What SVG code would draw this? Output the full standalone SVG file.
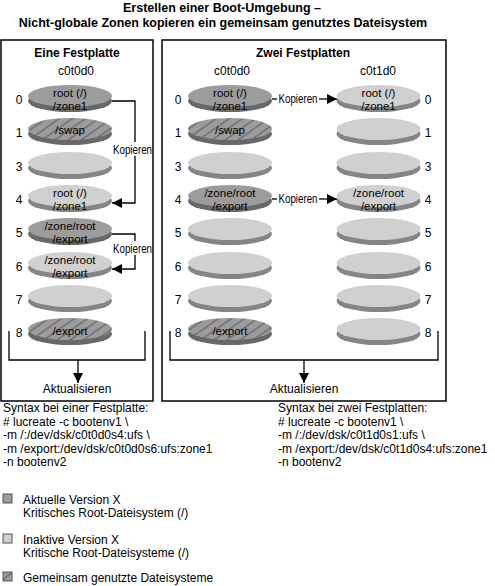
<svg xmlns="http://www.w3.org/2000/svg" width="495" height="586" viewBox="0 0 495 586">
<defs>
<pattern id="hatch" patternUnits="userSpaceOnUse" width="10" height="7.5" patternTransform="rotate(-35)">
<rect width="10" height="7.5" fill="#9c9c9c"/>
<line x1="0" y1="3.7" x2="10" y2="3.7" stroke="#4f4f4f" stroke-width="0.9"/>
</pattern>
<marker id="arr" markerWidth="10" markerHeight="10" viewBox="0 0 10 10" refX="10" refY="5" orient="auto" markerUnits="userSpaceOnUse">
<path d="M0,0 L10,5 L0,10 Z" fill="#000"/>
</marker>
</defs>
<style>
text{font-family:"Liberation Sans",Arial,sans-serif;font-size:12px;fill:#000}
.b{font-weight:bold}
.m{text-anchor:middle}
.d{font-size:11.5px}
.t{font-size:12.5px;font-weight:bold;text-anchor:middle}
.box{fill:none;stroke:#000;stroke-width:1.5}
.rimD{fill:#686868}
.rimL{fill:#858585}
.faceD{fill:#9c9c9c}
.faceL{fill:#d0d0d0}
.faceH{fill:url(#hatch)}
.ln{fill:none;stroke:#000;stroke-width:1.3}
.la{fill:none;stroke:#000;stroke-width:1.3;marker-end:url(#arr)}
.leg{stroke:#555;stroke-width:1}
.wb{fill:#fff}
</style>

<g id="title">
<text class="t" x="222" y="12">Erstellen einer Boot-Umgebung –</text>
<text class="t" x="223" y="27">Nicht-globale Zonen kopieren ein gemeinsam genutztes Dateisystem</text>
</g>

<g id="box-eine">
<rect class="box" x="1" y="40" width="152" height="361"/>
<text class="b m" x="77" y="57">Eine Festplatte</text>
<text class="m" x="76" y="75">c0t0d0</text>
</g>
<g id="box-zwei">
<rect class="box" x="162" y="40" width="284" height="361"/>
<text class="b m" x="303" y="57">Zwei Festplatten</text>
<text class="m" x="232" y="75">c0t0d0</text>
<text class="m" x="378" y="75">c0t1d0</text>
</g>

<!-- Left box: one disk -->
<g id="L0"><ellipse class="rimD" cx="70" cy="101" rx="42" ry="11"/><ellipse class="faceD" cx="70" cy="96" rx="42" ry="11"/><text class="m d" x="70" y="96.5">root (/)</text><text class="m d" x="70" y="109.5">/zone1</text><text class="m" x="19" y="104">0</text></g>
<g id="L1"><ellipse class="rimD" cx="70" cy="134" rx="42" ry="11"/><ellipse class="faceH" cx="70" cy="129" rx="42" ry="11"/><text class="m d" x="70" y="134">/swap</text><text class="m" x="19" y="137">1</text></g>
<g id="L3"><ellipse class="rimL" cx="70" cy="168" rx="42" ry="11"/><ellipse class="faceL" cx="70" cy="163" rx="42" ry="11"/><text class="m" x="19" y="171">3</text></g>
<g id="L4"><ellipse class="rimL" cx="70" cy="201" rx="42" ry="11"/><ellipse class="faceL" cx="70" cy="196" rx="42" ry="11"/><text class="m d" x="70" y="196.5">root (/)</text><text class="m d" x="70" y="209.5">/zone1</text><text class="m" x="19" y="204">4</text></g>
<g id="L5"><ellipse class="rimD" cx="70" cy="234" rx="42" ry="11"/><ellipse class="faceD" cx="70" cy="229" rx="42" ry="11"/><text class="m d" x="70" y="229.5">/zone/root</text><text class="m d" x="70" y="242.5">/export</text><text class="m" x="19" y="237">5</text></g>
<g id="L6"><ellipse class="rimL" cx="70" cy="268" rx="42" ry="11"/><ellipse class="faceL" cx="70" cy="263" rx="42" ry="11"/><text class="m d" x="70" y="263.5">/zone/root</text><text class="m d" x="70" y="276.5">/export</text><text class="m" x="19" y="271">6</text></g>
<g id="L7"><ellipse class="rimL" cx="70" cy="301" rx="42" ry="11"/><ellipse class="faceL" cx="70" cy="296" rx="42" ry="11"/><text class="m" x="19" y="304">7</text></g>
<g id="L8"><ellipse class="rimD" cx="70" cy="334" rx="42" ry="11"/><ellipse class="faceH" cx="70" cy="329" rx="42" ry="11"/><text class="m d" x="70" y="335">/export</text><text class="m" x="19" y="337">8</text></g>

<!-- Right box: c0t0d0 -->
<g id="A0"><ellipse class="rimD" cx="230" cy="101" rx="42" ry="11"/><ellipse class="faceD" cx="230" cy="96" rx="42" ry="11"/><text class="m d" x="230" y="96.5">root (/)</text><text class="m d" x="230" y="109.5">/zone1</text><text class="m" x="178" y="104">0</text></g>
<g id="A1"><ellipse class="rimD" cx="230" cy="134" rx="42" ry="11"/><ellipse class="faceH" cx="230" cy="129" rx="42" ry="11"/><text class="m d" x="230" y="134">/swap</text><text class="m" x="178" y="137">1</text></g>
<g id="A3"><ellipse class="rimL" cx="230" cy="168" rx="42" ry="11"/><ellipse class="faceL" cx="230" cy="163" rx="42" ry="11"/><text class="m" x="178" y="171">3</text></g>
<g id="A4"><ellipse class="rimD" cx="230" cy="201" rx="42" ry="11"/><ellipse class="faceD" cx="230" cy="196" rx="42" ry="11"/><text class="m d" x="230" y="196.5">/zone/root</text><text class="m d" x="230" y="209.5">/export</text><text class="m" x="178" y="204">4</text></g>
<g id="A5"><ellipse class="rimL" cx="230" cy="234" rx="42" ry="11"/><ellipse class="faceL" cx="230" cy="229" rx="42" ry="11"/><text class="m" x="178" y="237">5</text></g>
<g id="A6"><ellipse class="rimL" cx="230" cy="268" rx="42" ry="11"/><ellipse class="faceL" cx="230" cy="263" rx="42" ry="11"/><text class="m" x="178" y="271">6</text></g>
<g id="A7"><ellipse class="rimL" cx="230" cy="301" rx="42" ry="11"/><ellipse class="faceL" cx="230" cy="296" rx="42" ry="11"/><text class="m" x="178" y="304">7</text></g>
<g id="A8"><ellipse class="rimD" cx="230" cy="334" rx="42" ry="11"/><ellipse class="faceH" cx="230" cy="329" rx="42" ry="11"/><text class="m d" x="230" y="335">/export</text><text class="m" x="178" y="337">8</text></g>

<!-- Right box: c0t1d0 -->
<g id="B0"><ellipse class="rimL" cx="378.5" cy="101" rx="42" ry="11"/><ellipse class="faceL" cx="378.5" cy="96" rx="42" ry="11"/><text class="m d" x="378.5" y="96.5">root (/)</text><text class="m d" x="378.5" y="109.5">/zone1</text><text class="m" x="428" y="104">0</text></g>
<g id="B1"><ellipse class="rimL" cx="378.5" cy="134" rx="42" ry="11"/><ellipse class="faceL" cx="378.5" cy="129" rx="42" ry="11"/><text class="m" x="428" y="137">1</text></g>
<g id="B3"><ellipse class="rimL" cx="378.5" cy="168" rx="42" ry="11"/><ellipse class="faceL" cx="378.5" cy="163" rx="42" ry="11"/><text class="m" x="428" y="171">3</text></g>
<g id="B4"><ellipse class="rimL" cx="378.5" cy="201" rx="42" ry="11"/><ellipse class="faceL" cx="378.5" cy="196" rx="42" ry="11"/><text class="m d" x="378.5" y="196.5">/zone/root</text><text class="m d" x="378.5" y="209.5">/export</text><text class="m" x="428" y="204">4</text></g>
<g id="B5"><ellipse class="rimL" cx="378.5" cy="234" rx="42" ry="11"/><ellipse class="faceL" cx="378.5" cy="229" rx="42" ry="11"/><text class="m" x="428" y="237">5</text></g>
<g id="B6"><ellipse class="rimL" cx="378.5" cy="268" rx="42" ry="11"/><ellipse class="faceL" cx="378.5" cy="263" rx="42" ry="11"/><text class="m" x="428" y="271">6</text></g>
<g id="B7"><ellipse class="rimL" cx="378.5" cy="301" rx="42" ry="11"/><ellipse class="faceL" cx="378.5" cy="296" rx="42" ry="11"/><text class="m" x="428" y="304">7</text></g>
<g id="B8"><ellipse class="rimL" cx="378.5" cy="334" rx="42" ry="11"/><ellipse class="faceL" cx="378.5" cy="329" rx="42" ry="11"/><text class="m" x="428" y="337">8</text></g>

<g id="connectors">
<path class="la" d="M112,101 H135 V203 H112"/>
<rect class="wb" x="113" y="142" width="39" height="14"/>
<text x="113" y="154" textLength="39" lengthAdjust="spacingAndGlyphs">Kopieren</text>
<path class="la" d="M112,234 H135 V269 H112"/>
<rect class="wb" x="113" y="241" width="39" height="14"/>
<text x="113" y="253" textLength="39" lengthAdjust="spacingAndGlyphs">Kopieren</text>

<path class="ln" d="M272,99 H277"/>
<text x="278.5" y="103" textLength="39" lengthAdjust="spacingAndGlyphs">Kopieren</text>
<path class="la" d="M319,99 H337"/>
<path class="ln" d="M272,199 H277"/>
<text x="278.5" y="203" textLength="39" lengthAdjust="spacingAndGlyphs">Kopieren</text>
<path class="la" d="M319,199 H337"/>

<path class="ln" d="M9,331 V360 H145 V331"/>
<path class="la" d="M78,360 V383"/>
<text class="m" x="77" y="393">Aktualisieren</text>
<path class="ln" d="M170,331 V360 H438 V331"/>
<path class="la" d="M304,360 V383"/>
<text class="m" x="304" y="393">Aktualisieren</text>
</g>

<g id="syntax1">
<text x="3" y="412">Syntax bei einer Festplatte:</text>
<text x="3" y="425.5"># lucreate -c bootenv1 \</text>
<text x="3" y="439">-m /:/dev/dsk/c0t0d0s4:ufs \</text>
<text x="3" y="452.5">-m /export:/dev/dsk/c0t0d0s6:ufs:zone1</text>
<text x="3" y="466">-n bootenv2</text>
</g>
<g id="syntax2">
<text x="278" y="412">Syntax bei zwei Festplatten:</text>
<text x="278" y="425.5"># lucreate -c bootenv1 \</text>
<text x="278" y="439">-m /:/dev/dsk/c0t1d0s1:ufs \</text>
<text x="278" y="452.5">-m /export:/dev/dsk/c0t1d0s4:ufs:zone1</text>
<text x="278" y="466">-n bootenv2</text>
</g>

<g id="legend">
<rect class="faceD leg" x="3" y="494" width="9" height="9"/>
<text x="23" y="503.5">Aktuelle Version X</text>
<text x="23" y="516.5">Kritisches Root-Dateisystem (/)</text>
<rect class="faceL leg" x="3" y="534" width="9" height="9"/>
<text x="23" y="543.5">Inaktive Version X</text>
<text x="23" y="556.5">Kritische Root-Dateisysteme (/)</text>
<rect class="faceH leg" x="3" y="572" width="9" height="9"/>
<text x="23" y="582">Gemeinsam genutzte Dateisysteme</text>
</g>
</svg>
